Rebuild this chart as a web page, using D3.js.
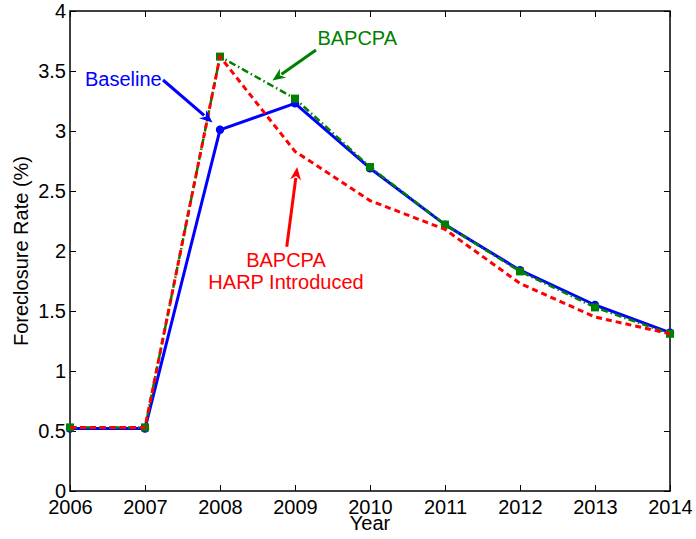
<!DOCTYPE html>
<html>
<head>
<meta charset="utf-8">
<script src="https://cdn.jsdelivr.net/npm/d3@7"></script>
<style>
  body { margin: 0; background: #fff; }
  text { font-family: "Liberation Sans", Arial, Helvetica, sans-serif; }
</style>
</head>
<body>
<div id="chart"></div>
<script>
// data
var years = [2006, 2007, 2008, 2009, 2010, 2011, 2012, 2013, 2014];
var baseline = [0.52, 0.52, 3.01, 3.23, 2.69, 2.22, 1.84, 1.55, 1.32];
var bapcpa = [0.53, 0.53, 3.62, 3.27, 2.70, 2.22, 1.83, 1.53, 1.31];
var harp = [0.53, 0.53, 3.62, 2.83, 2.42, 2.18, 1.73, 1.45, 1.31];
var yTicks = [0, 0.5, 1, 1.5, 2, 2.5, 3, 3.5, 4];

var width = 696, height = 539;
var margin = {top: 11, right: 26, bottom: 48, left: 70};
var fs = 20;

var svg = d3.select("#chart").append("svg")
    .attr("width", width)
    .attr("height", height);

var x = d3.scaleLinear().domain([2006, 2014]).range([margin.left, width - margin.right]);
var y = d3.scaleLinear().domain([0, 4]).range([height - margin.bottom, margin.top]);

// box
svg.append("rect")
    .attr("x", x(2006)).attr("y", y(4))
    .attr("width", x(2014) - x(2006)).attr("height", y(0) - y(4))
    .attr("fill", "none").attr("stroke", "#000").attr("stroke-width", 1.5);

// axes (inward ticks, matlab style)
var xAxis = d3.axisBottom(x).tickValues(years).tickFormat(d3.format("d")).tickSizeInner(-6).tickSizeOuter(0).tickPadding(9);
var gx = svg.append("g").attr("transform", "translate(0," + y(0) + ")").call(xAxis);
var gxTop = svg.append("g").attr("transform", "translate(0," + y(4) + ")")
    .call(d3.axisTop(x).tickValues(years).tickSizeInner(-6).tickSizeOuter(0).tickFormat(""));
var yAxis = d3.axisLeft(y).tickValues(yTicks).tickFormat(function(d) { return d; }).tickSizeInner(-6).tickSizeOuter(0).tickPadding(4);
var gy = svg.append("g").attr("transform", "translate(" + x(2006) + ",0)").call(yAxis);
var gyR = svg.append("g").attr("transform", "translate(" + x(2014) + ",0)")
    .call(d3.axisRight(y).tickValues(yTicks).tickSizeInner(-6).tickSizeOuter(0).tickFormat(""));

[gx, gxTop, gy, gyR].forEach(function(g) {
  g.select(".domain").remove();
  g.selectAll(".tick line").attr("stroke", "#000").attr("stroke-width", 1);
  g.selectAll("text").attr("font-size", fs).attr("fill", "#000")
    .style("font-family", "'Liberation Sans', Arial, sans-serif");
});

// axis labels
svg.append("text")
    .attr("x", x(2010)).attr("y", 530)
    .attr("text-anchor", "middle").attr("font-size", fs)
    .text("Year");
svg.append("text")
    .attr("transform", "translate(28," + y(2) + ") rotate(-90)")
    .attr("text-anchor", "middle").attr("font-size", fs)
    .text("Foreclosure Rate (%)");

var line = function(vals) {
  return d3.line().x(function(d, i) { return x(years[i]); }).y(function(d) { return y(d); })(vals);
};

// baseline
svg.append("path").attr("d", line(baseline))
    .attr("fill", "none").attr("stroke", "#0000ff").attr("stroke-width", 3).attr("stroke-linejoin", "round");
svg.selectAll("circle.base").data(baseline).enter().append("circle")
    .attr("class", "base")
    .attr("cx", function(d, i) { return x(years[i]); })
    .attr("cy", function(d) { return y(d); })
    .attr("r", 4.2).attr("fill", "#0000ff");

// bapcpa
svg.append("path").attr("d", line(bapcpa))
    .attr("fill", "none").attr("stroke", "#008000").attr("stroke-width", 2.5)
    .attr("stroke-dasharray", "7,3,1.5,3");
svg.selectAll("rect.bap").data(bapcpa).enter().append("rect")
    .attr("class", "bap")
    .attr("x", function(d, i) { return x(years[i]) - 4; })
    .attr("y", function(d) { return y(d) - 4; })
    .attr("width", 8).attr("height", 8).attr("fill", "#008000");

// bapcpa + harp
svg.append("path").attr("d", line(harp))
    .attr("fill", "none").attr("stroke", "#ff0000").attr("stroke-width", 3)
    .attr("stroke-dasharray", "6,4");

// annotations (positions in data units)
var arrow = function(x0, y0, x1, y1, color) {
  var ax = x(x0), ay = y(y0), bx = x(x1), by = y(y1);
  var ang = Math.atan2(by - ay, bx - ax);
  var hl = 13, hw = 5.5;
  var cx = bx - hl * Math.cos(ang), cy = by - hl * Math.sin(ang);
  svg.append("line")
      .attr("x1", ax).attr("y1", ay).attr("x2", cx + 2 * Math.cos(ang)).attr("y2", cy + 2 * Math.sin(ang))
      .attr("stroke", color).attr("stroke-width", 3);
  var pts = [
    [bx, by],
    [cx - hw * Math.sin(ang), cy + hw * Math.cos(ang)],
    [bx - (hl - 4) * Math.cos(ang), by - (hl - 4) * Math.sin(ang)],
    [cx + hw * Math.sin(ang), cy - hw * Math.cos(ang)]
  ];
  svg.append("polygon").attr("points", pts.map(function(p) { return p.join(","); }).join(" "))
      .attr("fill", color);
};

svg.append("text").attr("x", x(2006.2)).attr("y", y(3.43) + 7)
    .attr("font-size", fs).attr("fill", "#0000ff").text("Baseline");
arrow(2007.24, 3.425, 2007.9, 3.07, "#0000ff");

svg.append("text").attr("x", x(2009.83)).attr("y", y(3.775) + 7)
    .attr("text-anchor", "middle").attr("font-size", fs).attr("fill", "#008000").text("BAPCPA");
arrow(2009.28, 3.675, 2008.7, 3.42, "#008000");

svg.append("text").attr("x", x(2008.88)).attr("y", y(1.925) + 7)
    .attr("text-anchor", "middle").attr("font-size", fs).attr("fill", "#ff0000").text("BAPCPA");
svg.append("text").attr("x", x(2008.88)).attr("y", y(1.74) + 7)
    .attr("text-anchor", "middle").attr("font-size", fs).attr("fill", "#ff0000").text("HARP Introduced");
arrow(2008.89, 2.035, 2009.03, 2.7, "#ff0000");
</script>
</body>
</html>
